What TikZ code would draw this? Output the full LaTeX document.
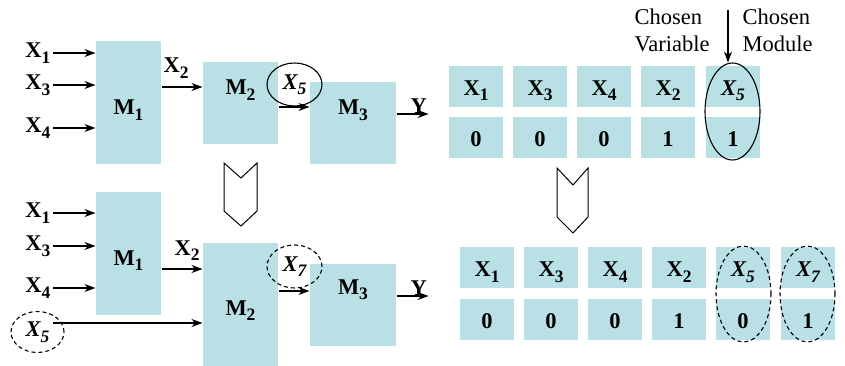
\documentclass[tikz,border=0pt]{standalone}
\usepackage{fontspec}
\setmainfont{Liberation Serif}
\usetikzlibrary{positioning,arrows.meta,calc,shapes.geometric}
\definecolor{cellteal}{RGB}{185,224,228}
\newcommand{\bvar}[2]{\textbf{#1\raisebox{-5.5pt}{\fontsize{17.5}{17.5}\selectfont #2}}}
\newcommand{\ivar}[1]{\textbf{\itshape X\raisebox{-5.5pt}{\fontsize{17.5}{17.5}\selectfont #1}}}

\begin{document}
\begin{tikzpicture}[x=1pt, y=-1pt,
    every node/.style={font=\fontsize{22.5}{27}\selectfont},
    modbox/.style={fill=cellteal, inner sep=0pt},
    modlbl/.style={anchor=base, inner sep=0pt},
    varlbl/.style={inner sep=2pt},
    cell/.style={fill=cellteal, minimum width=54pt, minimum height=41pt, inner sep=0pt,
                 text height=20pt, text depth=2pt, font=\fontsize{22.5}{27}\selectfont\bfseries},
    pick/.style={draw, ellipse, inner sep=0pt, line width=1.1pt},
    newpick/.style={pick, dash pattern=on 4pt off 3pt},
    chev/.style={draw, line width=1pt, line join=miter},
    note/.style={align=left, anchor=north west, inner sep=0pt},
    >={Stealth[length=11pt,width=8pt]}, line width=1.1pt
]
  \useasboundingbox (0,0) rectangle (845,366);

  % upper network
  \node[modbox, minimum width=65pt, minimum height=123pt] (m1a) at (128.5,102.5) {};
  \node[modbox, minimum width=75pt, minimum height=82pt] (m2a) at (240.5,103) {};
  \node[modbox, minimum width=86pt, minimum height=82pt] (m3a) at (353,123) {};
  \node[modlbl] (m1alab) at (128.5,115) {\bvar{M}{1}};
  \node[modlbl] (m2alab) at (240.5,95) {\bvar{M}{2}};
  \node[modlbl] (m3alab) at (353,115) {\bvar{M}{3}};
  \foreach \n/\y in {1/53,3/85,4/128} {
    \node[varlbl, anchor=east] (in\n a) at (53,\y) {\bvar{X}{\n}};
    \draw[->] (in\n a.east) -- (in\n a.east -| m1a.west);
  }
  \coordinate (o1a) at ($(m1a.east)+(0,-15.5)$);
  \draw[->] (o1a) -- (o1a -| m2a.west);
  \node[modlbl] (x2a) at (176,73) {\bvar{X}{2}};
  \node[pick, minimum width=55pt, minimum height=43pt] (sel5a) at (294.5,84.5) {\ivar{5}};
  \coordinate (o2a) at ($(m2a.east)+(0,4)$);
  \draw[->] (o2a) -- (o2a -| m3a.west);
  \coordinate (o3a) at ($(m3a.east)+(0,-9)$);
  \draw[->] (o3a) -- ++(32,0) node[pos=0.69, anchor=south, inner sep=0pt] (ya) {\textbf{Y}};

  % lower network
  \node[modbox, minimum width=65pt, minimum height=123pt] (m1b) at (128.5,253.5) {};
  \node[modbox, minimum width=75pt, minimum height=123pt] (m2b) at (240.5,304.5) {};
  \node[modbox, minimum width=86pt, minimum height=82pt] (m3b) at (353,305) {};
  \node[modlbl] (m1blab) at (128.5,265) {\bvar{M}{1}};
  \node[modlbl] (m2blab) at (240.5,315) {\bvar{M}{2}};
  \node[modlbl] (m3blab) at (353,294) {\bvar{M}{3}};
  \foreach \n/\y in {1/213,3/246,4/288} {
    \node[varlbl, anchor=east] (in\n b) at (53,\y) {\bvar{X}{\n}};
    \draw[->] (in\n b.east) -- (in\n b.east -| m1b.west);
  }
  \coordinate (o1b) at ($(m1b.east)+(0,15.5)$);
  \draw[->] (o1b) -- (o1b -| m2b.west);
  \node[modlbl] (x2b) at (187,255) {\bvar{X}{2}};
  \node[newpick, minimum width=53pt, minimum height=41pt] (sel5b) at (37.5,332) {\ivar{5}};
  \coordinate (o0b) at ($(sel5b.center)+(15.5,-9)$);
  \draw[->] (o0b) -- (o0b -| m2b.west);
  \node[newpick, minimum width=55pt, minimum height=43pt] (sel7b) at (294.5,266.5) {\ivar{7}};
  \coordinate (o2b) at ($(m3b.west)+(0,-14)$);
  \draw[->] (o2b -| m2b.east) -- (o2b);
  \coordinate (o3b) at ($(m3b.east)+(0,-9)$);
  \draw[->] (o3b) -- ++(32,0) node[pos=0.69, anchor=south, inner sep=0pt] (yb) {\textbf{Y}};

  % hollow arrows
  \draw[chev] (224,163) -- (241,178) -- (257,163) -- (257,211) -- (241,226) -- (224,211) -- cycle;
  \draw[chev] (557,168) -- (573,185) -- (588,168) -- (588,217) -- (573,233) -- (557,217) -- cycle;

  % upper code
  \foreach \lab/\val [count=\i from 0] in {1/0,3/0,4/0,2/1} {
    \node[cell] (ta\i) at ({476+64*\i},86.5) {\bvar{X}{\lab}};
    \node[cell] (va\i) at ({476+64*\i},137.5) {\val};
  }
  \node[cell] (ta4) at (733,86.5) {\ivar{5}};
  \node[cell] (va4) at (733,137.5) {1};
  \node[pick, minimum width=55pt, minimum height=97pt] (colA) at (732.5,111.5) {};
  \node[note] (cvar) at (634,8) {Chosen\\Variable};
  \node[note] (cmod) at (742,8) {Chosen\\Module};
  \coordinate (cho) at (728,10);
  \draw[->] (cho) -- (cho |- colA.north);

  % lower code
  \foreach \lab/\val [count=\i from 0] in {1/0,3/0,4/0,2/1} {
    \node[cell] (tb\i) at ({487+64*\i},267.5) {\bvar{X}{\lab}};
    \node[cell] (vb\i) at ({487+64*\i},319.5) {\val};
  }
  \node[cell] (tb4) at (743,267.5) {\ivar{5}};
  \node[cell] (vb4) at (743,319.5) {0};
  \node[cell] (tb5) at (808,267.5) {\ivar{7}};
  \node[cell] (vb5) at (808,319.5) {1};
  \node[newpick, minimum width=55pt, minimum height=96pt] (colB) at (743.5,294) {};
  \node[newpick, minimum width=55pt, minimum height=96pt] (colC) at (807.5,294) {};
\end{tikzpicture}
\end{document}
